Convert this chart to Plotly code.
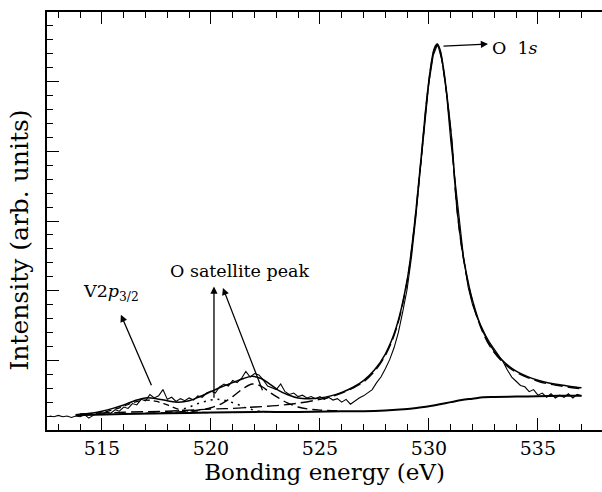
import plotly.graph_objects as go

# ---------------- data ----------------
# experimental spectrum: energies start at 512.6 eV, step 0.2 eV
exp_start = 512.6
exp_step = 0.2
exp_y = [
    0.20, 0.19, 0.21, 0.19, 0.20, 0.18, 0.20, 0.19, 0.22, 0.17,
    0.21, 0.24, 0.22, 0.26, 0.24, 0.29, 0.27, 0.33, 0.31, 0.38,
    0.36, 0.44, 0.42, 0.51, 0.46, 0.49, 0.58, 0.44, 0.47, 0.41,
    0.45, 0.42, 0.46, 0.43, 0.49, 0.47, 0.53, 0.56, 0.53, 0.62,
    0.66, 0.63, 0.71, 0.68, 0.74, 0.84, 0.76, 0.81, 0.79, 0.72,
    0.63, 0.61, 0.58, 0.66, 0.55, 0.51, 0.53, 0.48, 0.50, 0.46,
    0.48, 0.45, 0.48, 0.44, 0.47, 0.43, 0.45, 0.40, 0.44, 0.37,
    0.42, 0.46, 0.49, 0.53, 0.58, 0.68, 0.76, 0.88, 1.01, 1.18,
    1.40, 1.70, 2.02, 2.48, 3.05, 3.72, 4.40, 4.98, 5.38, 5.54,
    5.30, 4.85, 4.15, 3.55, 2.95, 2.45, 2.05, 1.80, 1.62, 1.48,
    1.36, 1.25, 1.16, 1.08, 0.98, 0.86, 0.76, 0.70, 0.64, 0.62,
    0.55, 0.58, 0.50, 0.53, 0.47, 0.52, 0.46, 0.50, 0.47, 0.52,
    0.46, 0.51, 0.49,
]
exp_x = [round(exp_start + exp_step * i, 2) for i in range(len(exp_y))]

# total fit envelope
env_x = [513.8, 514.5, 515.0, 515.5, 516.0, 516.5, 517.0, 517.5, 518.0, 518.5,
         519.0, 519.5, 520.0, 520.5, 521.0, 521.5, 521.9, 522.3, 522.7, 523.1,
         523.5, 524.0, 524.5, 525.0, 525.5, 526.0, 526.5, 527.0, 527.5, 528.0,
         528.5, 529.0, 529.3, 529.5, 529.7, 529.9, 530.1, 530.25, 530.38, 530.5,
         530.7, 530.9, 531.05, 531.3, 531.6, 532.0, 532.5, 533.0, 533.5, 534.0,
         534.5, 535.0, 535.5, 536.0, 536.5, 537.0]
env_y = [0.22, 0.24, 0.27, 0.31, 0.36, 0.42, 0.46, 0.45, 0.42, 0.40,
         0.42, 0.48, 0.55, 0.62, 0.68, 0.74, 0.77, 0.74, 0.66, 0.57,
         0.51, 0.46, 0.45, 0.46, 0.49, 0.54, 0.61, 0.71, 0.86, 1.09,
         1.47, 2.15, 2.85, 3.45, 4.10, 4.75, 5.25, 5.48, 5.54, 5.47,
         5.12, 4.60, 4.15, 3.15, 2.45, 1.86, 1.40, 1.13, 0.96, 0.845,
         0.77, 0.715, 0.675, 0.65, 0.625, 0.605]

# O 1s component
o1s_x = [514, 516, 518, 520, 521, 522, 523, 524, 525, 525.5,
         526, 526.5, 527, 527.5, 528, 528.5, 529, 529.3, 529.5, 529.7,
         529.9, 530.1, 530.25, 530.38, 530.5, 530.7, 530.9, 531.05, 531.3, 531.6,
         532, 532.5, 533, 533.5, 534, 534.5, 535, 535.5, 536, 536.5, 537]
o1s_y = [0.23, 0.255, 0.27, 0.30, 0.31, 0.33, 0.35, 0.385, 0.44, 0.475,
         0.53, 0.60, 0.69, 0.84, 1.07, 1.45, 2.13, 2.83, 3.43, 4.08,
         4.73, 5.23, 5.46, 5.52, 5.45, 5.10, 4.58, 4.13, 3.13, 2.43,
         1.84, 1.38, 1.11, 0.94, 0.83, 0.755, 0.70, 0.66, 0.635, 0.61, 0.59]

# O satellite components
sat1_x = [517.0, 518.0, 519.0, 519.5, 520.0, 520.5, 521.0, 521.5, 521.9, 522.3,
          522.7, 523.1, 523.5, 524.0, 524.5, 525.0, 526.0]
sat1_y = [0.24, 0.25, 0.27, 0.29, 0.32, 0.38, 0.48, 0.60, 0.66, 0.63,
          0.54, 0.46, 0.39, 0.33, 0.30, 0.285, 0.275]
sat2_x = [517.5, 518.0, 518.5, 519.0, 519.5, 520.0, 520.3, 520.7, 521.2, 521.7,
          522.2, 523.0, 524.0]
sat2_y = [0.24, 0.25, 0.28, 0.33, 0.39, 0.43, 0.44, 0.42, 0.37, 0.31,
          0.27, 0.26, 0.26]

# V 2p3/2 component
v2p_x = [513.8, 514.5, 515.0, 515.5, 516.0, 516.5, 517.0, 517.5, 518.0, 518.5,
         519.0, 519.5, 520.0]
v2p_y = [0.22, 0.23, 0.25, 0.29, 0.34, 0.40, 0.43, 0.41, 0.36, 0.30,
         0.27, 0.255, 0.25]

# background
bg_x = [513.8, 516, 518, 520, 522, 524, 526, 527, 528, 528.5, 529, 529.5,
        530, 530.5, 531, 531.5, 532, 532.5, 533, 534, 535, 536, 537]
bg_y = [0.21, 0.23, 0.24, 0.25, 0.26, 0.26, 0.27, 0.27, 0.28, 0.29, 0.30, 0.32,
        0.34, 0.37, 0.40, 0.43, 0.45, 0.47, 0.475, 0.48, 0.485, 0.49, 0.49]

# annotation arrows: (head x, head y, tail x, tail y)
arrows = [
    (515.87, 1.655, 517.30, 0.62),   # V2p3/2
    (520.14, 2.06, 520.14, 0.44),    # satellite (vertical)
    (520.55, 2.04, 522.39, 0.55),    # satellite (diagonal)
    (532.71, 5.54, 530.60, 5.51),    # O 1s
]
labels = [
    (515.42, 1.97, "V2<i>p</i><sub>3/2</sub>", "center"),
    (521.29, 2.28, "O satellite peak", "center"),
    (532.80, 5.48, "O&nbsp;&nbsp;1<i>s</i>", "left"),
]

x_title = "Bonding energy (eV)"
y_title = "Intensity (arb. units)"
x_range = [512.48, 537.94]
y_range = [0, 6]

# ---------------- figure ----------------
FONT = "DejaVu Serif"
fig = go.Figure()

fig.add_trace(go.Scatter(x=bg_x, y=bg_y, mode="lines", line_shape="spline",
                         line=dict(color="black", width=2.0)))
fig.add_trace(go.Scatter(x=v2p_x, y=v2p_y, mode="lines", line_shape="spline",
                         line=dict(color="black", width=1.3, dash="6px,4px")))
fig.add_trace(go.Scatter(x=sat2_x, y=sat2_y, mode="lines", line_shape="spline",
                         line=dict(color="black", width=1.5, dash="2px,5px")))
fig.add_trace(go.Scatter(x=sat1_x, y=sat1_y, mode="lines", line_shape="spline",
                         line=dict(color="black", width=1.4, dash="10px,5px")))
fig.add_trace(go.Scatter(x=o1s_x, y=o1s_y, mode="lines", line_shape="spline",
                         line=dict(color="black", width=1.4, dash="12px,5px")))
fig.add_trace(go.Scatter(x=env_x, y=env_y, mode="lines", line_shape="spline",
                         line=dict(color="black", width=1.5)))
fig.add_trace(go.Scatter(x=exp_x, y=exp_y, mode="lines",
                         line=dict(color="black", width=1.1)))

for hx, hy, tx, ty in arrows:
    fig.add_annotation(x=hx, y=hy, ax=tx, ay=ty, xref="x", yref="y",
                       axref="x", ayref="y", text="", showarrow=True,
                       arrowhead=2, arrowsize=1.1, arrowwidth=1.3,
                       arrowcolor="black")
for lx, ly, txt, anchor in labels:
    fig.add_annotation(x=lx, y=ly, xref="x", yref="y", text=txt,
                       showarrow=False, xanchor=anchor, yanchor="middle",
                       font=dict(family=FONT, size=17.5, color="black"))

# y-axis title placed as rotated text, left of the plot area
fig.add_annotation(x=-0.049, y=0.455, xref="paper", yref="paper",
                   text=y_title, textangle=-90, showarrow=False,
                   xanchor="center", yanchor="middle",
                   font=dict(family=FONT, size=25, color="black"))

fig.update_layout(
    width=602, height=492,
    margin=dict(l=47, r=0, t=12, b=62),
    plot_bgcolor="white", paper_bgcolor="white",
    font=dict(family=FONT, color="black"),
    showlegend=False,
)
fig.update_xaxes(
    range=x_range, showline=True, linewidth=2, linecolor="black",
    mirror="allticks", ticks="inside", ticklen=12, tickwidth=1.3,
    tickcolor="black", tick0=515, dtick=5,
    tickfont=dict(family=FONT, size=19, color="black"),
    minor=dict(ticks="inside", ticklen=6, dtick=1, tickcolor="black",
               tickwidth=1.3, showgrid=False),
    showgrid=False, zeroline=False,
    title=dict(text=x_title,
               font=dict(family=FONT, size=23, color="black"), standoff=5),
)
fig.update_yaxes(
    range=y_range, showline=True, linewidth=2, linecolor="black",
    mirror=False, ticks="inside", ticklen=12, tickwidth=1.3,
    tickcolor="black", dtick=1, showticklabels=False,
    minor=dict(ticks="inside", ticklen=6, dtick=0.2, tickcolor="black",
               tickwidth=1.3, showgrid=False),
    showgrid=False, zeroline=False,
)

fig.write_html("out.html")
